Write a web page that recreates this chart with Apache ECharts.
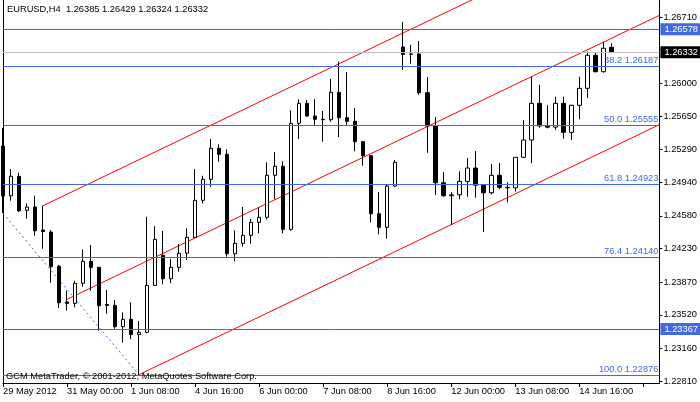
<!DOCTYPE html>
<html><head><meta charset="utf-8">
<script src="https://cdn.jsdelivr.net/npm/echarts@6/dist/echarts.min.js"></script>
<style>html,body{margin:0;padding:0;background:#fff}#c{width:700px;height:402px}</style>
</head><body><div id="c"></div>
<script>
// ---- data (EURUSD H4) ----
const opens = [1.25328,1.24795,1.25003,1.24639,1.24674,1.24428,1.24406,1.24040,1.23656,1.23642,
1.23857,1.24092,1.24028,1.23630,1.23620,1.23392,1.23471,1.23310,1.23332,1.23835,
1.24157,1.23906,1.24028,1.24180,1.24349,1.24746,1.24971,1.25303,1.25239,1.24174,
1.24285,1.24371,1.24510,1.24564,1.25014,1.25110,1.24435,1.25571,1.25785,1.25649,
1.25614,1.25610,1.25903,1.25631,1.25592,1.25374,1.25224,1.24602,1.24457,1.24899,
1.26388,1.26310,1.26314,1.25899,1.25542,1.24934,1.24795,1.24805,1.24949,1.25092,
1.24907,1.24827,1.25014,1.24885,1.24880,1.25207,1.25392,1.25785,1.25542,1.25530,
1.25785,1.25474,1.25764,1.25946,1.26300,1.26124,1.26385];
const highs = [1.25521,1.25081,1.25042,1.24714,1.24795,1.24688,1.24428,1.24053,1.23777,1.23884,
1.24221,1.24267,1.24034,1.23785,1.23678,1.23546,1.23653,1.23453,1.24570,1.24470,
1.24417,1.24117,1.24278,1.24446,1.25081,1.25009,1.25403,1.25346,1.25292,1.24424,
1.24674,1.24546,1.24671,1.25153,1.25263,1.25164,1.25710,1.25828,1.25821,1.25828,
1.25703,1.26046,1.26231,1.26121,1.25735,1.25380,1.25230,1.24835,1.24910,1.25178,
1.26656,1.26413,1.26453,1.26067,1.25638,1.25049,1.24832,1.25057,1.25199,1.25274,
1.24915,1.25135,1.25146,1.24939,1.25207,1.25606,1.26070,1.25985,1.25764,1.25856,
1.25856,1.25770,1.26070,1.26338,1.26327,1.26445,1.26429];
const lows = [1.24610,1.24742,1.24620,1.24549,1.24367,1.24227,1.23863,1.23592,1.23563,1.23599,
1.23820,1.23777,1.23349,1.23531,1.23370,1.23220,1.23257,1.22876,1.23321,1.23830,
1.23846,1.23857,1.23981,1.24106,1.24342,1.24714,1.24892,1.25159,1.24142,1.24092,
1.24249,1.24281,1.24392,1.24542,1.24757,1.24392,1.24420,1.25403,1.25642,1.25542,
1.25374,1.25588,1.25424,1.25549,1.25271,1.25117,1.24510,1.24382,1.24334,1.24890,
1.26145,1.26210,1.25877,1.25256,1.24803,1.24784,1.24481,1.24757,1.24784,1.24774,
1.24409,1.24810,1.24864,1.24724,1.24838,1.25200,1.25142,1.25524,1.25517,1.25499,
1.25406,1.25392,1.25614,1.25842,1.26117,1.26113,1.26324];
const closes = [1.24792,1.25003,1.24634,1.24674,1.24420,1.24412,1.24034,1.23649,1.23642,1.23857,
1.24092,1.24028,1.23617,1.23620,1.23392,1.23471,1.23310,1.23332,1.23835,1.24328,
1.23906,1.24028,1.24178,1.24349,1.24746,1.24971,1.25303,1.25239,1.24174,1.24285,
1.24371,1.24510,1.24564,1.25014,1.25110,1.24435,1.25571,1.25785,1.25649,1.25614,
1.25610,1.25903,1.25631,1.25592,1.25374,1.25224,1.24602,1.24457,1.24899,1.25153,
1.26310,1.26314,1.25899,1.25542,1.24934,1.24795,1.24805,1.24949,1.25092,1.24907,
1.24827,1.25014,1.24885,1.24880,1.25207,1.25392,1.25785,1.25542,1.25530,1.25785,
1.25474,1.25764,1.25946,1.26300,1.26124,1.26375,1.26332];
const tickLabels = ['29 May 2012','31 May 00:00','1 Jun 08:00','4 Jun 16:00','6 Jun 00:00',
  '7 Jun 08:00','8 Jun 16:00','12 Jun 00:00','13 Jun 08:00','14 Jun 16:00'];
const priceTicks = [1.22810,1.23160,1.23520,1.23870,1.24230,1.24580,1.24940,1.25290,1.25650,1.26000,1.26710];
const fibLevels = ['38.2','50.0','61.8','76.4','100.0'];
const fibPrices = [1.26187,1.25555,1.24923,1.24140,1.22876];
const hLevels = [1.26578,1.23367];
const bidPrice = 1.26332;
const channelUpper = [[5,1.24688],[82,1.27856]];
const channelMiddle = [[8,1.23685],[82,1.26728]];
const channelLower = [[17,1.22879],[82,1.25557]];
const fibDiagonal = [[0,1.24606],[17,1.22876]];
const totalSlots = 83;   // bars + chart shift space on the right

// ---- categories: H4 bar times, weekends skipped ----
const categories = [];
{
  let t = Date.UTC(2012, 4, 29, 16);
  while (categories.length < totalSlots) {
    const d = new Date(t);
    const wd = d.getUTCDay();
    if (wd !== 0 && wd !== 6) categories.push(d.toISOString().slice(0,16));
    t += 4*3600*1000;
  }
}
const labelMap = {};
tickLabels.forEach((s,i)=>{ labelMap[categories[i*8]] = s; });

const FONT = 'Liberation Sans';
const FS = 9.3;
const BLUE = '#4169E1';

const candleData = opens.map((o,i)=>[o, closes[i], lows[i], highs[i]]);

const fibMarks = fibPrices.map((p,i)=>({
  yAxis: p,
  lineStyle:{color:BLUE,width:1,type:'solid'},
  label:{show:true,position:'insideEndTop',formatter:fibLevels[i]+' '+p.toFixed(5),
    color:BLUE,fontFamily:FONT,fontSize:FS,distance:[1,1]}
}));
const hMarks = hLevels.map(p=>({
  yAxis:p,
  lineStyle:{color:BLUE,width:1,type:'solid'},
  label:{show:true,position:'end',formatter:p.toFixed(5),color:'#fff',backgroundColor:BLUE,
    fontFamily:FONT,fontSize:FS,padding:[2,4,1,4],distance:1}
}));
const bidMark = {
  yAxis:bidPrice,
  lineStyle:{color:'#c0c0c0',width:1,type:'solid'},
  label:{show:true,position:'end',formatter:bidPrice.toFixed(5),color:'#fff',backgroundColor:'#000',
    fontFamily:FONT,fontSize:FS,padding:[2,4,1,4],distance:1}
};

const lastIdx = opens.length-1;
const titleText = 'EURUSD,H4  ' + [opens[lastIdx],highs[lastIdx],lows[lastIdx],closes[lastIdx]].map(v=>v.toFixed(5)).join(' ');

const chart = echarts.init(document.getElementById('c'), null, {renderer:'canvas'});
chart.setOption({
  animation:false,
  backgroundColor:'#fff',
  grid:{left:3,right:40,top:0,bottom:19,containLabel:false},
  xAxis:{
    type:'category', data:categories, boundaryGap:false,
    axisLine:{show:true,lineStyle:{color:'#000',width:1}},
    axisTick:{show:true,interval:7,length:4,lineStyle:{color:'#000'}},
    axisLabel:{interval:7,formatter:(v)=>labelMap[v]||'',align:'left',margin:4,
      color:'#000',fontFamily:FONT,fontSize:FS},
    splitLine:{show:false}
  },
  yAxis:[{
    type:'value', position:'right', min:1.22789, max:1.26892, scale:true,
    axisLine:{show:true,lineStyle:{color:'#000',width:1}},
    axisTick:{show:true,length:3,customValues:priceTicks,lineStyle:{color:'#000'}},
    axisLabel:{customValues:priceTicks,formatter:v=>v.toFixed(5),margin:4,color:'#000',
      fontFamily:FONT,fontSize:FS},
    splitLine:{show:false}
  },{
    type:'value', position:'left', min:1.22789, max:1.26892, scale:true,
    axisLine:{show:true,onZero:false,lineStyle:{color:'#000',width:1}},
    axisTick:{show:false}, axisLabel:{show:false}, splitLine:{show:false}
  }],
  graphic:[
    {type:'text',left:7,top:5,z:100,style:{text:titleText,fill:'#000',font:FS+'px "'+FONT+'"'}},
    {type:'text',left:6,top:371.5,z:100,style:{text:'GCM MetaTrader, \u00a9 2001-2012, MetaQuotes Software Corp.',fill:'#000',font:FS+'px "'+FONT+'"'}}
  ],
  series:[
    {
      type:'line', data:[], z:1, silent:true,
      markLine:{silent:true,precision:5,symbol:['none','none'],animation:false,
        data:[...fibMarks,...hMarks,bidMark]}
    },
    {type:'line',data:channelUpper,symbol:'none',z:2,silent:true,lineStyle:{color:'#ff0000',width:1}},
    {type:'line',data:channelMiddle,symbol:'none',z:2,silent:true,lineStyle:{color:'#ff0000',width:1}},
    {type:'line',data:channelLower,symbol:'none',z:2,silent:true,lineStyle:{color:'#ff0000',width:1}},
    {type:'line',data:fibDiagonal,symbol:'none',z:2,silent:true,lineStyle:{color:BLUE,width:1,type:[2,3]}},
    {
      type:'candlestick', data:candleData, z:3, barWidth:4, silent:true,
      itemStyle:{color:'#fff',color0:'#000',borderColor:'#000',borderColor0:'#000',borderWidth:1}
    }
  ]
});
</script>
</body></html>
